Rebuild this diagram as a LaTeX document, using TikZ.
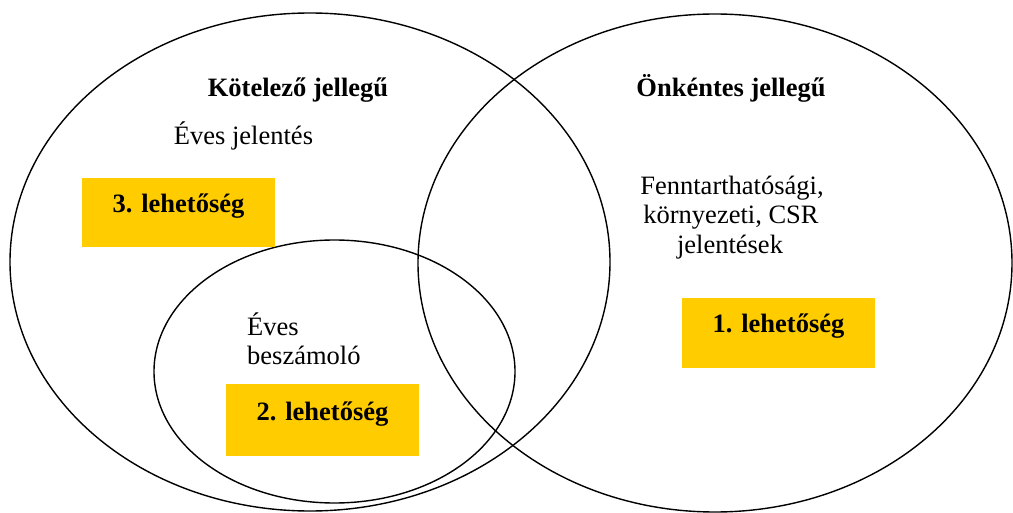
\documentclass[tikz,border=0pt]{standalone}
\usepackage{fontspec}
\setmainfont{Liberation Serif}
\definecolor{boxyellow}{HTML}{FFCC00}
\begin{document}
\begin{tikzpicture}[x=1pt,y=-1pt,
  ring/.style={draw=black,line width=1.4pt},
  optbox/.style={fill=boxyellow},
  lbl/.style={inner sep=0pt,anchor=base,font=\fontsize{26.5}{30}\selectfont},
  blbl/.style={lbl,font=\fontsize{26.5}{30}\selectfont\bfseries}]
\useasboundingbox (0,0) rectangle (1013,513);
% ellipses
\draw[ring] (310,262) ellipse [x radius=300, y radius=249];
\draw[ring] (715,263) ellipse [x radius=297, y radius=249];
\draw[ring] (334.5,371.5) ellipse [x radius=180.5, y radius=131.5];
% option boxes
\fill[optbox] (82,178) rectangle (275,247);
\fill[optbox] (226,384) rectangle (419,456);
\fill[optbox] (682,298) rectangle (875,368);
% texts
\node[blbl] (kot) at (298,97) {Kötelező jellegű};
\node[lbl] (evj) at (243.5,145) {Éves jelentés};
\node[blbl] (onk) at (731,97) {Önkéntes jellegű};
\node[lbl] (f1) at (732,195) {Fenntarthatósági,};
\node[lbl] (f2) at (731,224) {környezeti, CSR};
\node[lbl] (f3) at (730,254) {jelentések};
\node[lbl,anchor=base west] (eb1) at (247,335) {Éves};
\node[lbl,anchor=base west] (eb2) at (247,365) {beszámoló};
\node[blbl] (l3) at (178.5,213) {3. lehetőség};
\node[blbl] (l2) at (322.5,420) {2. lehetőség};
\node[blbl] (l1) at (778.5,333) {1. lehetőség};
\end{tikzpicture}
\end{document}
